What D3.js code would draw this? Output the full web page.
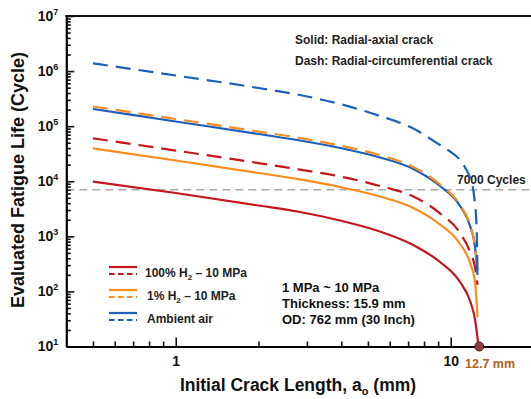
<!DOCTYPE html>
<html>
<head>
<meta charset="utf-8">
<script src="https://cdn.jsdelivr.net/npm/d3@7"></script>
<style>
  body { margin: 0; background: #fff; }
  svg { display: block; font-family: Arial, "Liberation Sans", sans-serif; font-weight: bold; }
</style>
</head>
<body>
<div id="chart"></div>
<script>
// crack length (mm), fatigue life (cycles)
const redSolid = [[0.5, 9820], [1, 6120], [2, 3630], [2.83, 2765], [3.96, 1937], [5.53, 1224],
  [7.31, 695], [9.14, 342], [10.81, 148], [11.76, 67], [12.27, 30], [12.62, 10]];
const redDash = [[0.5, 60200], [1, 36100], [2, 21400], [2.83, 16300], [3.96, 12200], [5.53, 8200],
  [7.31, 5280], [9.14, 2620], [10.81, 1148], [11.76, 519], [12.27, 266], [12.52, 131]];
const orangeSolid = [[0.5, 39600], [1, 23800], [2, 14100], [2.83, 10800], [3.96, 7860], [5.53, 5280],
  [7.31, 3270], [9.14, 1640], [10.81, 726], [11.76, 328], [12.27, 142], [12.52, 34]];
const orangeDash = [[0.5, 227500], [1, 134900], [2, 80000], [2.83, 61000], [3.96, 44500], [5.53, 29900],
  [7.31, 18100], [9.14, 8730], [10.81, 3700], [11.76, 1605], [12.27, 640], [12.57, 225]];
const blueSolid = [[0.5, 205000], [1, 121600], [2, 72100], [2.83, 54900], [3.96, 40100], [5.53, 27000],
  [7.31, 16700], [9.14, 8200], [10.81, 3560], [11.76, 1540], [12.27, 614], [12.52, 199]];
const blueDash = [[0.5, 1384000], [1, 831000], [2, 493000], [2.83, 368000], [3.96, 252000], [5.53, 153000],
  [7.31, 90700], [9.14, 45500], [9.94, 34700], [10.81, 24300], [11.27, 17780], [11.76, 11450],
  [12.15, 5620], [12.41, 1605], [12.52, 183]];

const xMajor = [1, 10];
const xMinor = [0.5, 0.6, 0.7, 0.8, 0.9, 2, 3, 4, 5, 6, 7, 8, 9];
const yMajor = [10, 100, 1000, 1e4, 1e5, 1e6, 1e7];
const yMinor = [];
yMajor.slice(0, -1).forEach(p => { for (let k = 2; k <= 9; k++) yMinor.push(p * k); });
const limitCycles = 7000;
const criticalDepth = 12.7;

const series = [
  { data: redSolid, color: '#c4161c', dash: null },
  { data: orangeSolid, color: '#fb8c1d', dash: null },
  { data: redDash, color: '#c4161c', dash: '15,8' },
  { data: blueSolid, color: '#1c5fb8', dash: null },
  { data: orangeDash, color: '#fb8c1d', dash: '15,8' },
  { data: blueDash, color: '#1c5fb8', dash: '15,8' }
];
const legendItems = [
  { color: '#c4161c', label: ['100% H', '2', ' – 10 MPa'] },
  { color: '#fb8c1d', label: ['1% H', '2', ' – 10 MPa'] },
  { color: '#1c5fb8', label: ['Ambient air'] }
];

const W = 531, H = 399;
const svg = d3.select('#chart').append('svg').attr('width', W).attr('height', H);

const x = d3.scaleLog().domain([0.4, 20]).range([66.3, 533.5]);
const y = d3.scaleLog().domain([10, 1e7]).range([346.5, 16]);
const plotLeft = x.range()[0], plotBottom = y.range()[0], plotTop = y.range()[1];

// 7000 cycles reference line
svg.append('line')
  .attr('x1', plotLeft).attr('x2', W).attr('y1', y(limitCycles)).attr('y2', y(limitCycles))
  .attr('stroke', '#aaa').attr('stroke-width', 1.6).attr('stroke-dasharray', '8,5');
svg.append('text').attr('x', 457).attr('y', y(limitCycles) - 6)
  .attr('font-size', 12).attr('fill', '#222').text('7000 Cycles');

// curves
const line = d3.line().x(d => x(d[0])).y(d => y(d[1])).curve(d3.curveMonotoneX);
series.forEach(s => {
  svg.append('path').datum(s.data)
    .attr('d', line).attr('fill', 'none')
    .attr('stroke', s.color).attr('stroke-width', 2.2)
    .attr('stroke-dasharray', s.dash);
});

// axes
const yAxisG = svg.append('g').attr('transform', `translate(${plotLeft},0)`);
yAxisG.append('g')
  .call(d3.axisLeft(y).tickValues(yMinor).tickSizeInner(-4.5).tickSizeOuter(0).tickFormat(''))
  .call(g => g.select('.domain').remove());
const yMajorG = yAxisG.append('g')
  .call(d3.axisLeft(y).tickValues(yMajor).tickSizeInner(-8).tickSizeOuter(0).tickPadding(8).tickFormat(''))
  .call(g => g.select('.domain').attr('stroke-width', 2.2));
yAxisG.selectAll('.tick line').attr('stroke-width', 1.6).attr('stroke', '#111');
yMajorG.selectAll('.tick text')
  .attr('font-size', 14).attr('font-family', 'Arial, "Liberation Sans", sans-serif')
  .attr('font-weight', 'bold').attr('fill', '#111')
  .each(function (d) {
    const t = d3.select(this);
    t.append('tspan').text('10');
    t.append('tspan').attr('font-size', 9).attr('dy', -6).text(Math.round(Math.log10(d)));
  });

const xAxisG = svg.append('g').attr('transform', `translate(0,${plotBottom})`);
xAxisG.append('g')
  .call(d3.axisBottom(x).tickValues(xMinor).tickSizeInner(-5).tickSizeOuter(0).tickFormat(''))
  .call(g => g.select('.domain').remove());
const xMajorG = xAxisG.append('g')
  .call(d3.axisBottom(x).tickValues(xMajor).tickSizeInner(-9).tickSizeOuter(0).tickPadding(10).tickFormat(d3.format('d')))
  .call(g => g.select('.domain').attr('stroke-width', 2.2));
xAxisG.selectAll('.tick line').attr('stroke-width', 1.6).attr('stroke', '#111');
xMajorG.selectAll('.tick text')
  .attr('font-size', 14).attr('font-family', 'Arial, "Liberation Sans", sans-serif')
  .attr('font-weight', 'bold').attr('fill', '#111');

// top frame
svg.append('line').attr('x1', plotLeft - 1).attr('x2', W).attr('y1', plotTop).attr('y2', plotTop)
  .attr('stroke', '#111').attr('stroke-width', 2.2);

// critical crack depth marker
svg.append('circle').attr('cx', x(criticalDepth)).attr('cy', plotBottom).attr('r', 4.5)
  .attr('fill', '#8e3b3b').attr('stroke', '#5a1c1c').attr('stroke-width', 1);
svg.append('text').attr('x', 465).attr('y', 368)
  .attr('font-size', 12.5).attr('fill', '#b0601c').text('12.7 mm');

// axis titles
const xt = svg.append('text').attr('x', 298).attr('y', 391).attr('text-anchor', 'middle')
  .attr('font-size', 17.5).attr('fill', '#111');
xt.append('tspan').text('Initial Crack Length, a');
xt.append('tspan').attr('font-size', 11).attr('dy', 4).text('o');
xt.append('tspan').attr('dy', -4).text(' (mm)');

svg.append('text').attr('transform', 'translate(24,180) rotate(-90)').attr('text-anchor', 'middle')
  .attr('font-size', 18).attr('fill', '#111').text('Evaluated Fatigue Life (Cycle)');

// notes
svg.append('text').attr('x', 295).attr('y', 44).attr('font-size', 12).attr('fill', '#222')
  .text('Solid: Radial-axial crack');
svg.append('text').attr('x', 295).attr('y', 64.5).attr('font-size', 12).attr('fill', '#222')
  .text('Dash: Radial-circumferential crack');

const info = ['1 MPa ~ 10 MPa', 'Thickness: 15.9 mm', 'OD: 762 mm (30 Inch)'];
info.forEach((s, i) => {
  svg.append('text').attr('x', 282).attr('y', 291.5 + i * 16).attr('font-size', 13).attr('fill', '#111').text(s);
});

// legend
const lg = svg.append('g').attr('transform', 'translate(109,267)');
legendItems.forEach((it, i) => {
  const g = lg.append('g').attr('transform', `translate(0,${i * 23})`);
  g.append('line').attr('x1', 0).attr('x2', 28).attr('y1', 0).attr('y2', 0)
    .attr('stroke', it.color).attr('stroke-width', 2.2);
  g.append('line').attr('x1', 0).attr('x2', 28).attr('y1', 7).attr('y2', 7)
    .attr('stroke', it.color).attr('stroke-width', 2.2).attr('stroke-dasharray', '5.5,3.5');
  const t = g.append('text').attr('x', i === 0 ? 36 : 38).attr('y', 9.5).attr('font-size', 12).attr('fill', '#222');
  t.append('tspan').text(it.label[0]);
  if (it.label.length > 1) {
    t.append('tspan').attr('font-size', 8).attr('dy', 3).text(it.label[1]);
    t.append('tspan').attr('dy', -3).text(it.label[2]);
  }
});
</script>
</body>
</html>
